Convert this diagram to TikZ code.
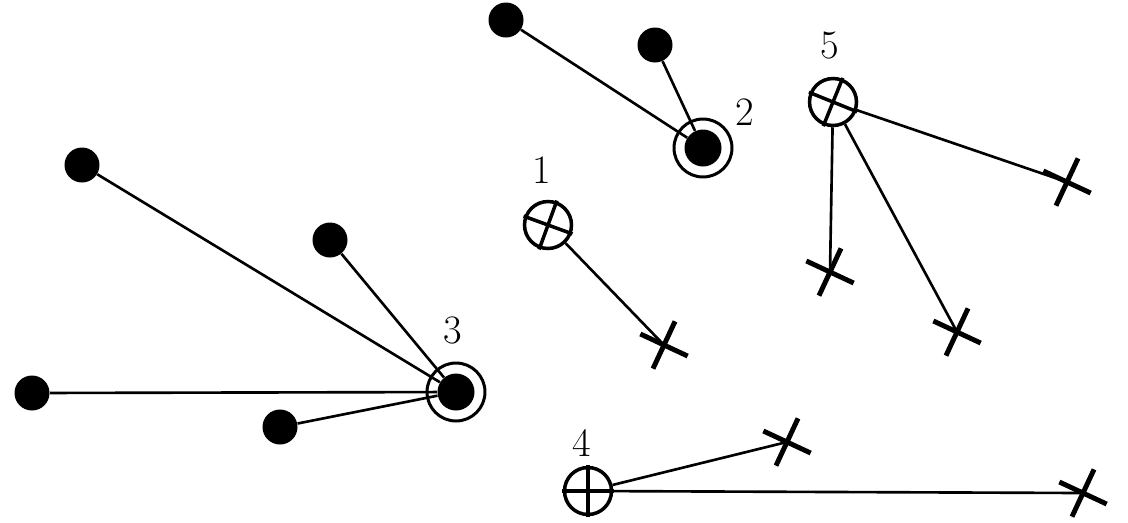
\documentclass[tikz,border=0pt]{standalone}
\usetikzlibrary{shapes.misc}
\begin{document}
\begin{tikzpicture}[x=0.02cm,y=-0.02cm,
  dot/.style={circle,fill=black,inner sep=0pt,minimum size=0.7cm},
  bigdot/.style={circle,fill=black,inner sep=0pt,minimum size=0.74cm},
  ring/.style={circle,draw,line width=1.7pt,inner sep=0pt,minimum size=1.16cm},
  oplus/.style={circle,draw,line width=2pt,inner sep=0pt,minimum size=0.94cm,fill=white},
  plusmark/.style={cross out,draw,line width=2pt,inner sep=0pt,minimum size=0.665cm,rotate=45+#1},
  xmark/.style={cross out,draw,line width=2.8pt,inner sep=0pt,minimum size=0.64cm,rotate=#1},
  conn/.style={line width=1.5pt},
  lbl/.style={font=\fontsize{23}{23}\selectfont,inner sep=0pt}]
\useasboundingbox (0,0) rectangle (1128,522);
% node 1
\node[oplus] (n1) at (548,225) {};
\node[plusmark=-20] (p1) at (548,225) {};
\node[lbl] (l1) at (542,170) {1};
\node[xmark=20] (c1) at (664,345) {};
% node 2
\node[ring] (n2) at (703,148) {};
\node[bigdot] (n2d) at (703,148) {};
\node[lbl] (l2) at (745,112) {2};
\node[dot] (d21) at (506,20) {};
\node[dot] (d22) at (655,45) {};
% node 3
\node[ring] (n3) at (456,392) {};
\node[bigdot] (n3d) at (456,392) {};
\node[lbl] (l3) at (453,330) {3};
\node[dot] (d31) at (82,165) {};
\node[dot] (d32) at (330,240) {};
\node[dot] (d33) at (32,393) {};
\node[dot] (d34) at (280,427) {};
% node 4
\node[oplus] (n4) at (588,491) {};
\node[plusmark=0] (p4) at (588,491) {};
\node[lbl] (l4) at (582,443) {4};
\node[xmark=20] (c41) at (787,442) {};
\node[xmark=20] (c42) at (1083,493) {};
% node 5
\node[oplus] (n5) at (833,102) {};
\node[plusmark=-22] (p5) at (833,102) {};
\node[lbl] (l5) at (830,45) {5};
\node[xmark=20] (c51) at (830,272) {};
\node[xmark=20] (c52) at (957,332) {};
\node[xmark=20] (c53) at (1067,182) {};
% connectors
\draw[conn] (n1) -- (c1.center);
\draw[conn] (d21) -- (n2d);
\draw[conn] (d22) -- (n2d);
\draw[conn] (d31) -- (n3d);
\draw[conn] (d32) -- (n3d);
\draw[conn] (d33) -- (n3d);
\draw[conn] (d34) -- (n3d);
\draw[conn] (n4) -- (c41.center);
\draw[conn] (n4) -- (c42.center);
\draw[conn] (n5) -- (c51.center);
\draw[conn] (n5) -- (c52.center);
\draw[conn] (n5) -- (c53.center);
\end{tikzpicture}
\end{document}
